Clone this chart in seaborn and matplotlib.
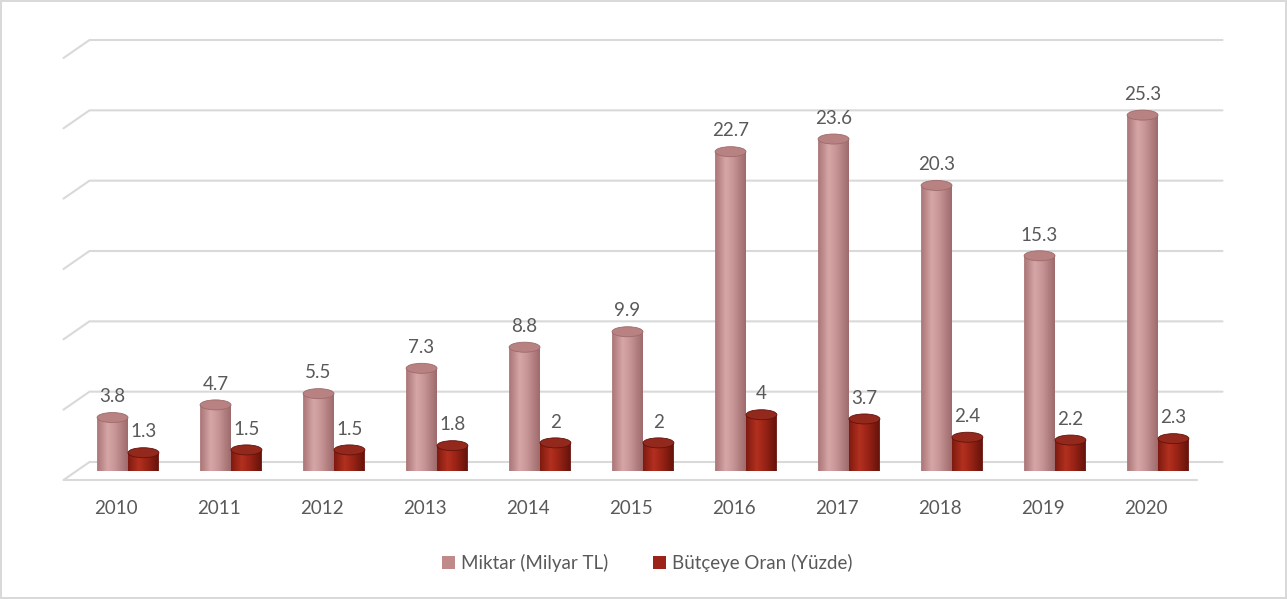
import numpy as np
import pandas as pd
import seaborn as sns
import matplotlib.pyplot as plt
from matplotlib.patches import Ellipse, Patch, PathPatch
from matplotlib.path import Path
from matplotlib.colors import LinearSegmentedColormap
from matplotlib.transforms import ScaledTranslation, IdentityTransform

# data
years = ["2010", "2011", "2012", "2013", "2014", "2015",
         "2016", "2017", "2018", "2019", "2020"]
miktar = [3.8, 4.7, 5.5, 7.3, 8.8, 9.9, 22.7, 23.6, 20.3, 15.3, 25.3]
oran = [1.3, 1.5, 1.5, 1.8, 2, 2, 4, 3.7, 2.4, 2.2, 2.3]
series_names = ["Miktar (Milyar TL)", "Bütçeye Oran (Yüzde)"]

df = pd.DataFrame({
    "year": years * 2,
    "value": miktar + oran,
    "series": [series_names[0]] * len(years) + [series_names[1]] * len(years),
})

swatch = ["#C08A8B", "#9B2317"]
body_cols = [["#A97475", "#D6A6A7", "#C69495", "#9E6A6B"],
             ["#7E1A10", "#B3301F", "#9A2416", "#63120B"]]
top_cols = ["#B88182", "#93281D"]
txt = "#595959"
grid_col = "#D9D9D9"

sns.set_theme(style="white")
plt.rcParams["font.family"] = ["Lato", "DejaVu Sans"]

W, H = 1287, 599
fig = plt.figure(figsize=(W / 100, H / 100), dpi=100)
fig.patch.set_edgecolor(grid_col)
fig.patch.set_linewidth(1.5)
ax = fig.add_axes([76.5 / W, 128 / H, 1133 / W, 422 / H])
ax.set_facecolor("none")

sns.barplot(data=df, x="year", y="value", hue="series", palette=swatch,
            width=0.6, gap=0, saturation=1, legend=False, ax=ax)
ax.set_xlim(-0.5, 10.5)
ax.set_ylim(0, 30)
for s in ax.spines.values():
    s.set_visible(False)
ax.set_yticks([])
ax.set_xlabel("")
ax.set_ylabel("")
ax.tick_params(axis="x", length=0, pad=21, labelsize=13.5, labelcolor=txt)
shift = ScaledTranslation(-0.12, 0, fig.dpi_scale_trans)
for lbl in ax.get_xticklabels():
    lbl.set_transform(lbl.get_transform() + shift)

# 3d-ish walls: back grid lines + left side + floor front edge
fig.canvas.draw()
dx, dy = 13, 9
for v in range(0, 31, 5):
    lx, ly = ax.transData.transform((-0.5, v))
    rx, ry = ax.transData.transform((10.5, v))
    xs = [lx - dx, lx + dx, rx + dx]
    ys = [ly - dy, ly + dy, ry + dy]
    ax.plot(xs, ys, color=grid_col, lw=1.5, transform=IdentityTransform(),
            clip_on=False, zorder=0.5)
    if v == 0:
        ax.plot([lx - dx, rx - dx], [ly - dy, ry - dy], color=grid_col, lw=1.5,
                transform=IdentityTransform(), clip_on=False, zorder=0.5)

# cylinders
px_per_unit = ax.bbox.height / 30
ell_h = 10 / px_per_unit
for k, cont in enumerate(ax.containers):
    cmap = LinearSegmentedColormap.from_list(
        "c%d" % k, list(zip([0, 0.35, 0.6, 1], body_cols[k])))
    grad = cmap(np.linspace(0, 1, 256))[None, :, :]
    for bar in cont:
        x0, w, h = bar.get_x(), bar.get_width(), bar.get_height()
        xc = x0 + w / 2
        bar.set_visible(False)
        t = np.linspace(np.pi, 2 * np.pi, 40)
        arc = np.column_stack([xc + w / 2 * np.cos(t), ell_h / 2 * np.sin(t)])
        verts = np.vstack([[x0, h], arc, [x0 + w, h], [x0, h]])
        codes = [Path.MOVETO] + [Path.LINETO] * (len(verts) - 2) + [Path.CLOSEPOLY]
        shape = PathPatch(Path(verts, codes), facecolor="none", edgecolor="none")
        ax.add_patch(shape)
        im = ax.imshow(grad, extent=(x0, x0 + w, -ell_h / 2, h), aspect="auto",
                       zorder=2, interpolation="bilinear")
        im.set_clip_path(shape)
        ax.add_patch(Ellipse((xc, h), w, ell_h, facecolor=top_cols[k],
                             edgecolor=body_cols[k][3], lw=0.6, zorder=3))
        ax.annotate(f"{h:g}", (xc, h), xytext=(0, 11), textcoords="offset points",
                    ha="center", va="baseline", fontsize=13.5, color=txt)

ax.set_xlim(-0.5, 10.5)
ax.set_ylim(0, 30)

handles = [Patch(facecolor=c, edgecolor="none", label=n)
           for c, n in zip(swatch, series_names)]
fig.legend(handles=handles, loc="center", bbox_to_anchor=(0.503, 0.06), ncol=2,
           frameon=False, fontsize=13.5, labelcolor=txt, handlelength=0.7,
           handleheight=0.7, handletextpad=0.3, columnspacing=2.4)

fig.savefig("out.png", dpi=100, edgecolor=fig.get_edgecolor())
